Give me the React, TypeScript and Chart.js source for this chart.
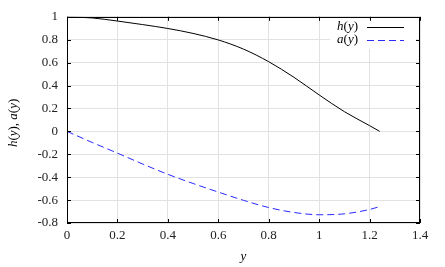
import React, { useEffect, useRef } from "react";
import { Chart, registerables } from "chart.js";

Chart.register(...registerables);

const xValues = [0, 0.1, 0.2, 0.3, 0.4, 0.5, 0.6, 0.7, 0.8, 0.9, 1.0, 1.1, 1.2, 1.24];
const hValues = [1, 0.99, 0.963, 0.932, 0.898, 0.855, 0.798, 0.718, 0.608, 0.472, 0.318, 0.172, 0.05, 0.0];
const aValues = [0, -0.097, -0.19, -0.285, -0.375, -0.455, -0.53, -0.602, -0.665, -0.708, -0.728, -0.72, -0.682, -0.657];
const xTicks = [0, 0.2, 0.4, 0.6, 0.8, 1.0, 1.2, 1.4];
const yTicks = [-0.8, -0.6, -0.4, -0.2, 0, 0.2, 0.4, 0.6, 0.8, 1];
const seriesNames = ["h", "a"];
const seriesColors = ["#000000", "#2a2aff"];

const SERIF = "'Liberation Serif', 'Times New Roman', serif";

function drawMixed(ctx: CanvasRenderingContext2D, parts: [string, boolean][], x: number, y: number, align: "left" | "right" | "center") {
  let total = 0;
  const widths: number[] = [];
  for (const [t, it] of parts) {
    ctx.font = `${it ? "italic " : ""}13px ${SERIF}`;
    const w = ctx.measureText(t).width;
    widths.push(w);
    total += w;
  }
  let cx = align === "left" ? x : align === "right" ? x - total : x - total / 2;
  ctx.textAlign = "left";
  ctx.textBaseline = "middle";
  parts.forEach(([t, it], i) => {
    ctx.font = `${it ? "italic " : ""}13px ${SERIF}`;
    ctx.fillText(t, cx, y);
    cx += widths[i];
  });
}

const framePlugin = {
  id: "frame",
  afterDraw(chart: any) {
    const { ctx, chartArea } = chart;
    const { left, right, top, bottom } = chartArea;
    const xs = chart.scales.x;
    const ys = chart.scales.y;
    ctx.save();
    // legend box
    ctx.fillStyle = "#ffffff";
    ctx.fillRect(330, top + 2, 86, 30);
    // frame
    ctx.strokeStyle = "#000";
    ctx.lineWidth = 1;
    ctx.strokeRect(Math.round(left) + 0.5, Math.round(top) + 0.5, Math.round(right - left) - 1, Math.round(bottom - top) - 1);
    // inner ticks
    ctx.beginPath();
    const tl = 4;
    xTicks.forEach((v) => {
      const px = Math.round(xs.getPixelForValue(v)) + 0.5;
      ctx.moveTo(px, bottom);
      ctx.lineTo(px, bottom - tl);
      ctx.moveTo(px, top);
      ctx.lineTo(px, top + tl);
    });
    yTicks.forEach((v) => {
      const py = Math.round(ys.getPixelForValue(v)) + 0.5;
      ctx.moveTo(left, py);
      ctx.lineTo(left + tl, py);
      ctx.moveTo(right, py);
      ctx.lineTo(right - tl, py);
    });
    ctx.stroke();
    // legend
    ctx.fillStyle = "#000";
    seriesNames.forEach((n, i) => {
      const ly = 27 + i * 13;
      drawMixed(ctx, [[n, true], ["(", false], ["y", true], [")", false]], 358, ly, "right");
      ctx.beginPath();
      ctx.strokeStyle = seriesColors[i];
      ctx.setLineDash(i === 1 ? [7, 4] : []);
      ctx.moveTo(367, ly + 0.5);
      ctx.lineTo(404, ly + 0.5);
      ctx.stroke();
    });
    ctx.setLineDash([]);
    // x title
    ctx.fillStyle = "#000";
    drawMixed(ctx, [["y", true]], (left + right) / 2, 257, "center");
    // y title
    ctx.translate(14, (top + bottom) / 2 + 3);
    ctx.rotate(-Math.PI / 2);
    drawMixed(ctx, [["h", true], ["(", false], ["y", true], ["), ", false], ["a", true], ["(", false], ["y", true], [")", false]], 0, 0, "center");
    ctx.restore();
  },
};

function fmt(v: number) {
  return String(Number(Number(v).toFixed(1)));
}

export default function App() {
  const ref = useRef<HTMLCanvasElement>(null);
  useEffect(() => {
    if (!ref.current) return;
    const chart = new Chart(ref.current, {
      type: "line",
      data: {
        datasets: [
          {
            label: "h(y)",
            data: xValues.map((x, i) => ({ x, y: hValues[i] })),
            borderColor: seriesColors[0],
            borderWidth: 1,
            pointRadius: 0,
            cubicInterpolationMode: "monotone",
            fill: false,
          },
          {
            label: "a(y)",
            data: xValues.map((x, i) => ({ x, y: aValues[i] })),
            borderColor: seriesColors[1],
            borderWidth: 1,
            borderDash: [7, 4],
            pointRadius: 0,
            cubicInterpolationMode: "monotone",
            fill: false,
          },
        ],
      },
      options: {
        animation: false,
        responsive: false,
        layout: { padding: { left: 0, top: 16, right: 25, bottom: 0 } },
        plugins: { legend: { display: false }, tooltip: { enabled: false } },
        scales: {
          x: {
            type: "linear",
            min: 0,
            max: 1.4,
            afterBuildTicks: (s: any) => { s.ticks = xTicks.map((v) => ({ value: v })); },
            afterFit: (s: any) => { s.height = 44; },
            ticks: { callback: (v: any) => fmt(v), color: "#222", padding: 5, maxRotation: 0, font: { family: SERIF, size: 13 } },
            grid: { color: "#e2e2e2", drawTicks: false },
            border: { display: false },
          },
          y: {
            type: "linear",
            min: -0.8,
            max: 1,
            afterBuildTicks: (s: any) => { s.ticks = yTicks.map((v) => ({ value: v })); },
            afterFit: (s: any) => { s.width = 67; },
            ticks: { callback: (v: any) => fmt(v), color: "#222", padding: 9, font: { family: SERIF, size: 13 } },
            grid: { color: "#e2e2e2", drawTicks: false },
            border: { display: false },
          },
        },
      },
      plugins: [framePlugin],
    } as any);
    return () => chart.destroy();
  }, []);
  return (
    <div style={{ position: "absolute", left: 0, top: 0, width: 445, height: 267, background: "#fff" }}>
      <canvas ref={ref} width={445} height={267} />
    </div>
  );
}
